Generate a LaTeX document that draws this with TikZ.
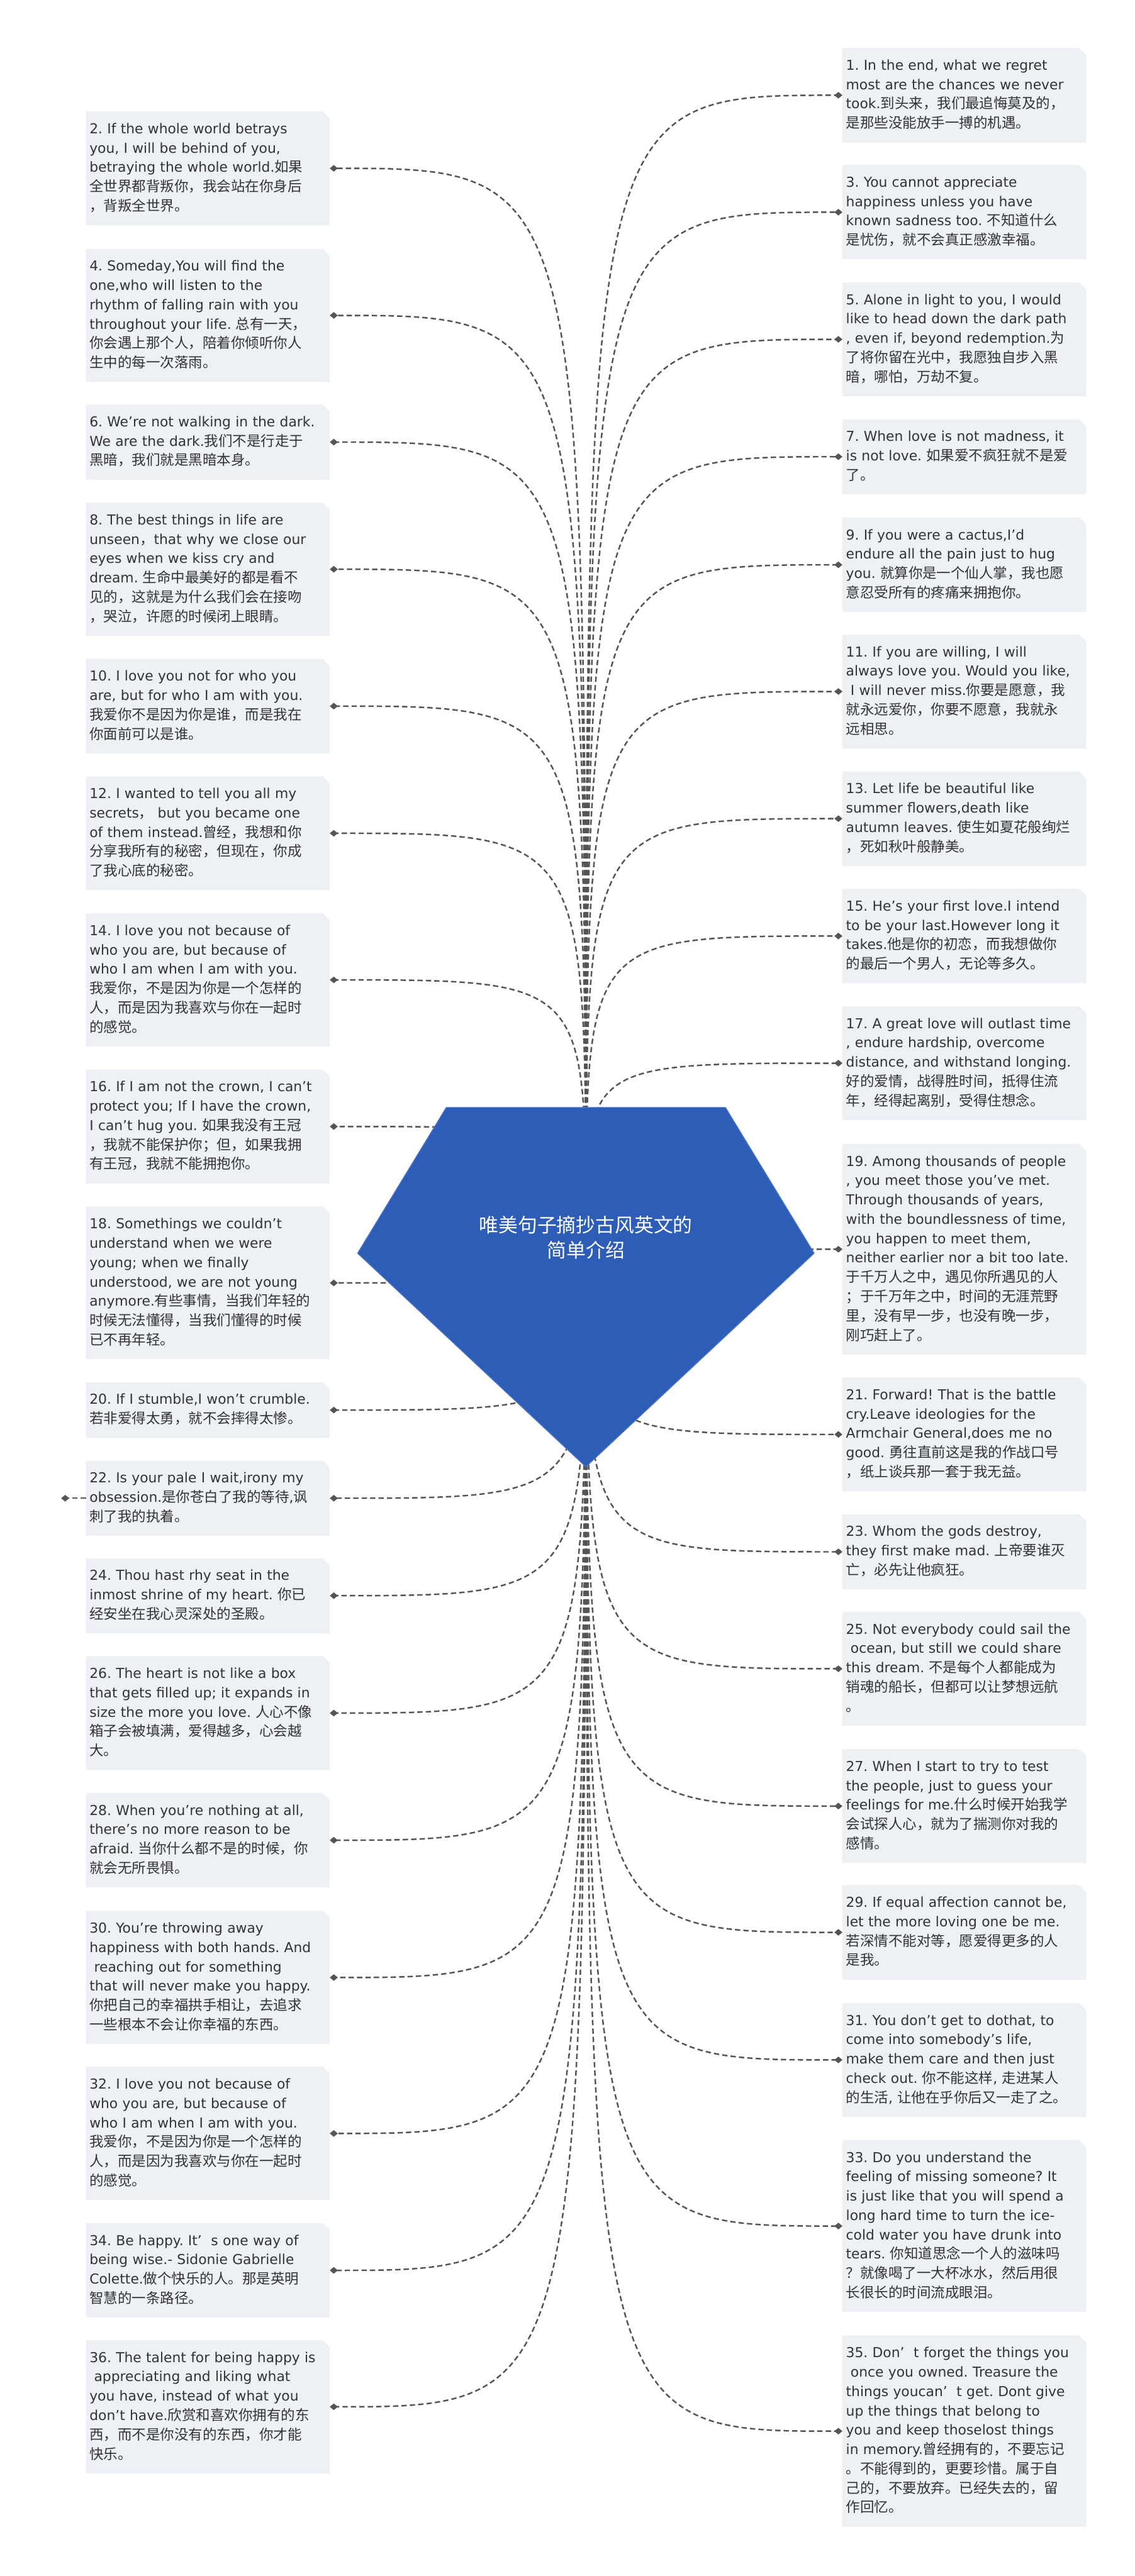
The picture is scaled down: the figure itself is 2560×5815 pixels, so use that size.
\documentclass[tikz,border=0pt]{standalone}
\usepackage{fontspec}
\setmainfont{DejaVu Sans}
\newfontfamily\zh{Noto Sans CJK SC}[Scale=1.03]
\usetikzlibrary{arrows.meta, backgrounds}
\definecolor{rootc}{RGB}{45,93,183}
\definecolor{boxc}{RGB}{237,240,244}
\definecolor{linkc}{RGB}{85,85,85}
\definecolor{textc}{RGB}{51,51,51}
\frenchspacing
% runs of Chinese characters are set in the CJK face
\XeTeXinterchartokenstate=1
\newXeTeXintercharclass\zhcls
\newcount\zhcnt
\newcommand\zhrange[2]{%
  \zhcnt=#1\relax
  \loop
    \XeTeXcharclass\zhcnt=\zhcls
    \ifnum\zhcnt<#2\relax
    \advance\zhcnt by 1
  \repeat}
\zhrange{"3000}{"303F}
\zhrange{"4E00}{"9FFF}
\zhrange{"FF00}{"FFEF}
\XeTeXinterchartoks 0 \zhcls = {\zh}
\XeTeXinterchartoks 4095 \zhcls = {\zh}
\XeTeXinterchartoks \zhcls 0 = {\rmfamily}
\XeTeXinterchartoks \zhcls 4095 = {\rmfamily}
\XeTeXinterchartoks 4095 0 = {\rmfamily}
\newcommand{\quotebg}[1]{%
  \fill[boxc] (#1.south west) -- (#1.north west) -- ([xshift=-16pt]#1.north east)
    -- ([yshift=-16pt]#1.north east) -- (#1.south east) -- cycle;}

\begin{document}
\begin{tikzpicture}[x=1pt, y=-1pt,
  qbox/.style={text=textc, text width=534pt, inner xsep=8pt, inner ysep=19pt,
    align=left, font=\fontsize{31}{43.7}\selectfont,
    execute at begin node=\strut, execute at end node=\strut},
  rootlabel/.style={text=white, align=center, font=\fontsize{42.5}{57}\selectfont},
  conn/.style={draw=linkc, line width=3.5pt, dash pattern=on 12pt off 7pt,
    -{Diamond[length=18pt, width=15pt]}}]
  \useasboundingbox (0,0) rectangle (2560,5815);

  % left column
  \node[qbox] (q2) at (469,380) {2. If the whole world betrays\\you, I will be behind of you,\\betraying the whole world.如果\\全世界都背叛你，我会站在你身后\\，背叛全世界。};
  \node[qbox] (q4) at (469,712) {4. Someday,You will find the\\one,who will listen to the\\rhythm of falling rain with you\\throughout your life. 总有一天，\\你会遇上那个人，陪着你倾听你人\\生中的每一次落雨。};
  \node[qbox] (q6) at (469,998) {6. We're not walking in the dark.\\We are the dark.我们不是行走于\\黑暗，我们就是黑暗本身。};
  \node[qbox] (q8) at (469,1285) {8. The best things in life are\\unseen，that why we close our\\eyes when we kiss cry and\\dream. 生命中最美好的都是看不\\见的，这就是为什么我们会在接吻\\，哭泣，许愿的时候闭上眼睛。};
  \node[qbox] (q10) at (469,1594) {10. I love you not for who you\\are, but for who I am with you.\\我爱你不是因为你是谁，而是我在\\你面前可以是谁。};
  \node[qbox] (q12) at (469,1881) {12. I wanted to tell you all my\\secrets，\ but you became one\\of them instead.曾经，我想和你\\分享我所有的秘密，但现在，你成\\了我心底的秘密。};
  \node[qbox] (q14) at (469,2212) {14. I love you not because of\\who you are, but because of\\who I am when I am with you.\\我爱你，不是因为你是一个怎样的\\人，而是因为我喜欢与你在一起时\\的感觉。};
  \node[qbox] (q16) at (469,2543) {16. If I am not the crown, I can't\\protect you; If I have the crown,\\I can't hug you. 如果我没有王冠\\，我就不能保护你；但，如果我拥\\有王冠，我就不能拥抱你。};
  \node[qbox] (q18) at (469,2896) {18. Somethings we couldn't\\understand when we were\\young; when we finally\\understood, we are not young\\anymore.有些事情，当我们年轻的\\时候无法懂得，当我们懂得的时候\\已不再年轻。};
  \node[qbox] (q20) at (469,3183) {20. If I stumble,I won't crumble.\\若非爱得太勇，就不会摔得太惨。};
  \node[qbox] (q22) at (469,3382) {22. Is your pale I wait,irony my\\obsession.是你苍白了我的等待,讽\\刺了我的执着。};
  \node[qbox] (q24) at (469,3602) {24. Thou hast rhy seat in the\\inmost shrine of my heart. 你已\\经安坐在我心灵深处的圣殿。};
  \node[qbox] (q26) at (469,3867) {26. The heart is not like a box\\that gets filled up; it expands in\\size the more you love. 人心不像\\箱子会被填满，爱得越多，心会越\\大。};
  \node[qbox] (q28) at (469,4154) {28. When you're nothing at all,\\there's no more reason to be\\afraid. 当你什么都不是的时候，你\\就会无所畏惧。};
  \node[qbox] (q30) at (469,4464) {30. You're throwing away\\happiness with both hands. And\\\ reaching out for something\\that will never make you happy.\\你把自己的幸福拱手相让，去追求\\一些根本不会让你幸福的东西。};
  \node[qbox] (q32) at (469,4816) {32. I love you not because of\\who you are, but because of\\who I am when I am with you.\\我爱你，不是因为你是一个怎样的\\人，而是因为我喜欢与你在一起时\\的感觉。};
  \node[qbox] (q34) at (469,5125) {34. Be happy. It’\ \ s one way of\\being wise.- Sidonie Gabrielle\\Colette.做个快乐的人。那是英明\\智慧的一条路径。};
  \node[qbox] (q36) at (469,5433) {36. The talent for being happy is\\\ appreciating and liking what\\you have, instead of what you\\don't have.欣赏和喜欢你拥有的东\\西，而不是你没有的东西，你才能\\快乐。};
  \coordinate (tail22) at (138,3382);

  % right column
  \node[qbox] (q1) at (2176,215) {1. In the end, what we regret\\most are the chances we never\\took.到头来，我们最追悔莫及的，\\是那些没能放手一搏的机遇。};
  \node[qbox] (q3) at (2176,479) {3. You cannot appreciate\\happiness unless you have\\known sadness too. 不知道什么\\是忧伤，就不会真正感激幸福。};
  \node[qbox] (q5) at (2176,766) {5. Alone in light to you, I would\\like to head down the dark path\\, even if, beyond redemption.为\\了将你留在光中，我愿独自步入黑\\暗，哪怕，万劫不复。};
  \node[qbox] (q7) at (2176,1031) {7. When love is not madness, it\\is not love. 如果爱不疯狂就不是爱\\了。};
  \node[qbox] (q9) at (2176,1275) {9. If you were a cactus,I'd\\endure all the pain just to hug\\you. 就算你是一个仙人掌，我也愿\\意忍受所有的疼痛来拥抱你。};
  \node[qbox] (q11) at (2176,1561) {11. If you are willing, I will\\always love you. Would you like,\\\ I will never miss.你要是愿意，我\\就永远爱你，你要不愿意，我就永\\远相思。};
  \node[qbox] (q13) at (2176,1848) {13. Let life be beautiful like\\summer flowers,death like\\autumn leaves. 使生如夏花般绚烂\\，死如秋叶般静美。};
  \node[qbox] (q15) at (2176,2113) {15. He's your first love.I intend\\to be your last.However long it\\takes.他是你的初恋，而我想做你\\的最后一个男人，无论等多久。};
  \node[qbox] (q17) at (2176,2400) {17. A great love will outlast time\\, endure hardship, overcome\\distance, and withstand longing.\\好的爱情，战得胜时间，抵得住流\\年，经得起离别，受得住想念。};
  \node[qbox] (q19) at (2176,2820) {19. Among thousands of people\\, you meet those you've met.\\Through thousands of years,\\with the boundlessness of time,\\you happen to meet them,\\neither earlier nor a bit too late.\\于千万人之中，遇见你所遇见的人\\；于千万年之中，时间的无涯荒野\\里，没有早一步，也没有晚一步，\\刚巧赶上了。};
  \node[qbox] (q21) at (2176,3238) {21. Forward! That is the battle\\cry.Leave ideologies for the\\Armchair General,does me no\\good. 勇往直前这是我的作战口号\\，纸上谈兵那一套于我无益。};
  \node[qbox] (q23) at (2176,3503) {23. Whom the gods destroy,\\they first make mad. 上帝要谁灭\\亡，必先让他疯狂。};
  \node[qbox] (q25) at (2176,3767) {25. Not everybody could sail the\\\ ocean, but still we could share\\this dream. 不是每个人都能成为\\销魂的船长，但都可以让梦想远航\\。};
  \node[qbox] (q27) at (2176,4077) {27. When I start to try to test\\the people, just to guess your\\feelings for me.什么时候开始我学\\会试探人心，就为了揣测你对我的\\感情。};
  \node[qbox] (q29) at (2176,4362) {29. If equal affection cannot be,\\let the more loving one be me.\\若深情不能对等，愿爱得更多的人\\是我。};
  \node[qbox] (q31) at (2176,4650) {31. You don't get to dothat, to\\come into somebody's life,\\make them care and then just\\check out. 你不能这样, 走进某人\\的生活, 让他在乎你后又一走了之。};
  \node[qbox] (q33) at (2176,5025) {33. Do you understand the\\feeling of missing someone? It\\is just like that you will spend a\\long hard time to turn the ice-\\cold water you have drunk into\\tears. 你知道思念一个人的滋味吗\\？就像喝了一大杯冰水，然后用很\\长很长的时间流成眼泪。};
  \node[qbox] (q35) at (2176,5488) {35. Don’\ \ t forget the things you\\\ once you owned. Treasure the\\things youcan’\ \ t get. Dont give\\up the things that belong to\\you and keep thoselost things\\in memory.曾经拥有的，不要忘记\\。不能得到的，更要珍惜。属于自\\己的，不要放弃。已经失去的，留\\作回忆。};

  \node[rootlabel] (root) at (1322,2793) {唯美句子摘抄古风英文的\\简单介绍};

  \begin{scope}[on background layer]
    \fill[white] (0,0) rectangle (2560,5815);
    \foreach \i in {1,...,36} {\quotebg{q\i}}
    \foreach \i in {2,4,...,36}
      \draw[conn] (root.center) .. controls (root.center |- q\i.east) and (root.center |- q\i.east) .. (q\i.east);
    \foreach \i in {1,3,...,35}
      \draw[conn] (root.center) .. controls (root.center |- q\i.west) and (root.center |- q\i.west) .. (q\i.west);
    \draw[conn] (q22.west) -- (tail22);
    \fill[rootc, draw=rootc!85!white, line width=2pt] (1007,2500) -- (1637,2500) -- (1837,2829) -- (1322,3311) -- (807,2829) -- cycle;
  \end{scope}
\end{tikzpicture}
\end{document}
